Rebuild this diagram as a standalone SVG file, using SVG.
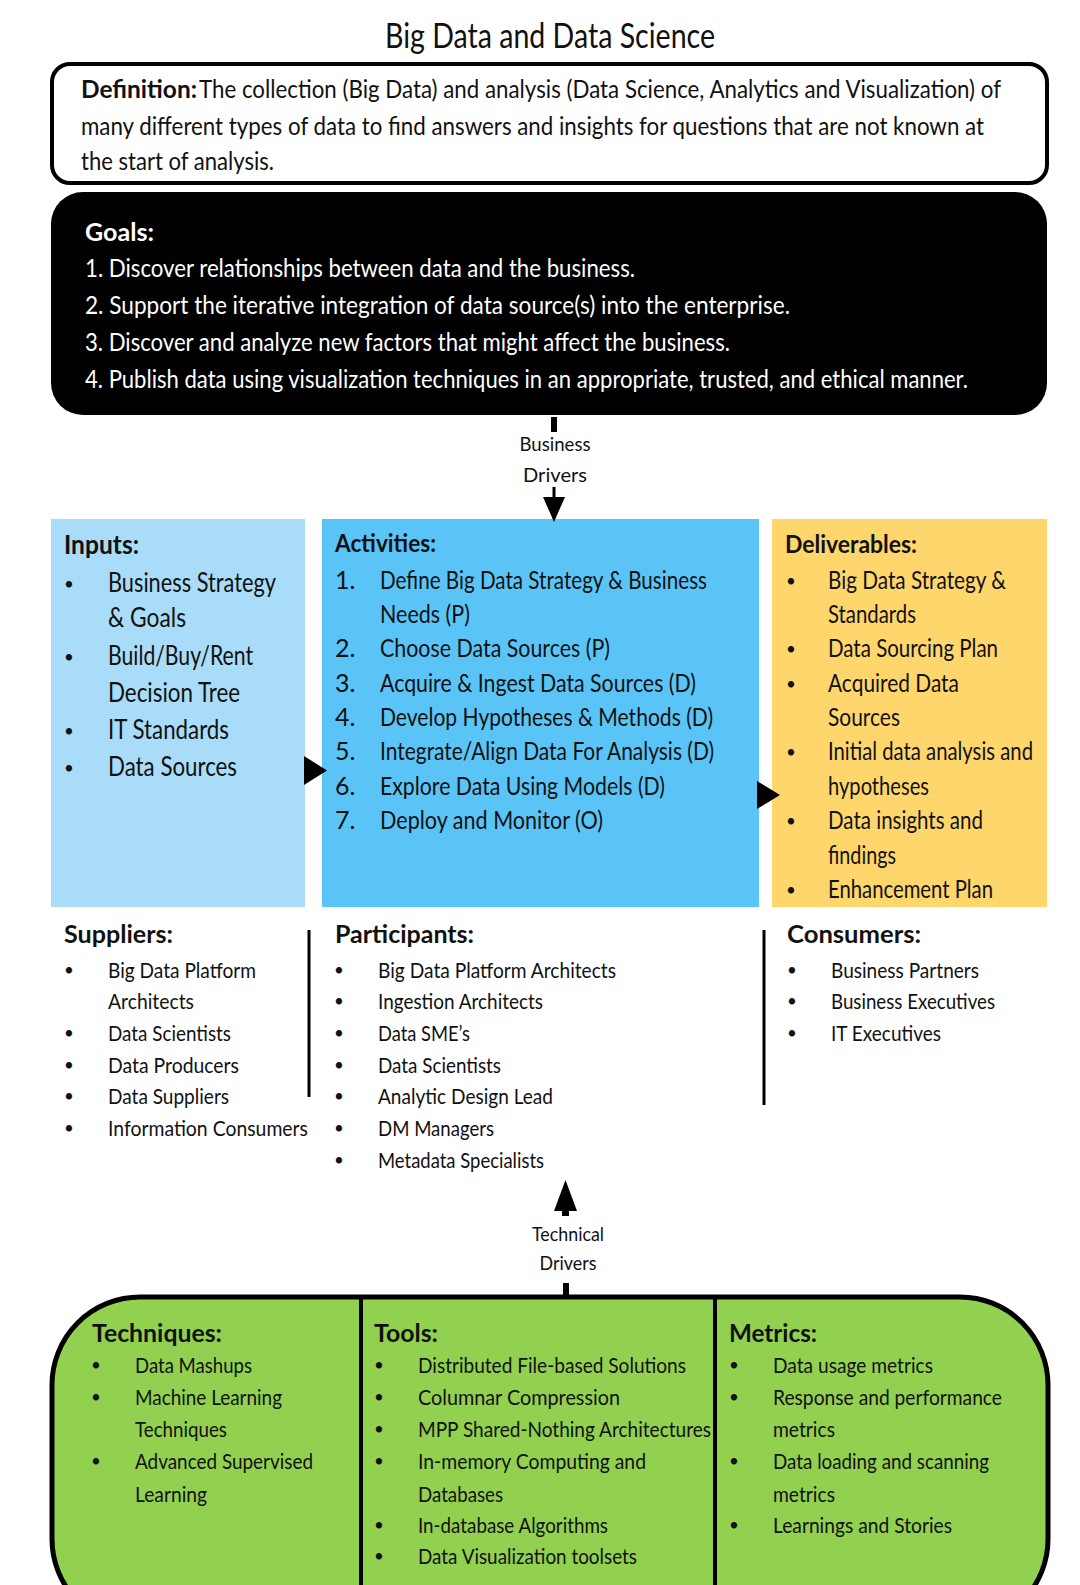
<svg xmlns="http://www.w3.org/2000/svg" width="1080" height="1585" viewBox="0 0 1080 1585">
<style>
text{font-family:Lato,"Liberation Sans",sans-serif;fill:#111;}
.b{font-weight:bold;}
.title{font-size:34px;}
.def{font-size:25px;}
.goal{font-size:25px;fill:#fff;}
.in{font-size:26px;}
.mid{font-size:25px;}
.sm{font-size:22px;}
.bl{font-size:17px;}
.drv{font-size:20px;}
</style>
<rect width="1080" height="1585" fill="#fff"/>
<g id="title"><text class="title" x="550" y="48" text-anchor="middle" textLength="330" lengthAdjust="spacingAndGlyphs">Big Data and Data Science</text></g>

<g id="definition">
<rect x="52" y="64" width="995" height="119" rx="18" fill="#fff" stroke="#000" stroke-width="4"/>
<text class="def b" x="81" y="98" textLength="116" lengthAdjust="spacingAndGlyphs">Definition:</text>
<text class="def" x="199" y="98" textLength="802" lengthAdjust="spacingAndGlyphs">The collection (Big Data) and analysis (Data Science, Analytics and Visualization) of</text>
<text class="def" x="81" y="135" textLength="903" lengthAdjust="spacingAndGlyphs">many different types of data to find answers and insights for questions that are not known at</text>
<text class="def" x="81" y="170" textLength="193" lengthAdjust="spacingAndGlyphs">the start of analysis.</text>
</g>

<g id="goals">
<rect x="51" y="192" width="996" height="223" rx="32" fill="#000"/>
<text class="goal b" x="85" y="241" textLength="69" lengthAdjust="spacingAndGlyphs">Goals:</text>
<text class="goal" x="85" y="277" textLength="550" lengthAdjust="spacingAndGlyphs">1. Discover relationships between data and the business.</text>
<text class="goal" x="85" y="314" textLength="705" lengthAdjust="spacingAndGlyphs">2. Support the iterative integration of data source(s) into the enterprise.</text>
<text class="goal" x="85" y="351" textLength="645" lengthAdjust="spacingAndGlyphs">3. Discover and analyze new factors that might affect the business.</text>
<text class="goal" x="85" y="388" textLength="883" lengthAdjust="spacingAndGlyphs">4. Publish data using visualization techniques in an appropriate, trusted, and ethical manner.</text>
</g>

<g id="inputs">
<rect x="51" y="519" width="254" height="388" fill="#a8dcf8"/>
<text class="in b" x="64" y="554" textLength="75" lengthAdjust="spacingAndGlyphs">Inputs:</text>
<text class="bl" x="64" y="590">•</text><text class="in" x="108" y="592" textLength="168" lengthAdjust="spacingAndGlyphs">Business Strategy</text>
<text class="in" x="108" y="627" textLength="78" lengthAdjust="spacingAndGlyphs">&amp; Goals</text>
<text class="bl" x="64" y="663">•</text><text class="in" x="108" y="665" textLength="145" lengthAdjust="spacingAndGlyphs">Build/Buy/Rent</text>
<text class="in" x="108" y="702" textLength="132" lengthAdjust="spacingAndGlyphs">Decision Tree</text>
<text class="bl" x="64" y="737">•</text><text class="in" x="108" y="739" textLength="121" lengthAdjust="spacingAndGlyphs">IT Standards</text>
<text class="bl" x="64" y="774">•</text><text class="in" x="108" y="776" textLength="129" lengthAdjust="spacingAndGlyphs">Data Sources</text>
</g>

<g id="activities">
<rect x="322" y="519" width="437" height="388" fill="#5ac4f6"/>
<text class="mid b" x="335" y="552" textLength="101" lengthAdjust="spacingAndGlyphs">Activities:</text>
<text class="mid" x="335" y="589">1.</text><text class="mid" x="380" y="589" textLength="327" lengthAdjust="spacingAndGlyphs">Define Big Data Strategy &amp; Business</text>
<text class="mid" x="380" y="623" textLength="90" lengthAdjust="spacingAndGlyphs">Needs (P)</text>
<text class="mid" x="335" y="657">2.</text><text class="mid" x="380" y="657" textLength="230" lengthAdjust="spacingAndGlyphs">Choose Data Sources (P)</text>
<text class="mid" x="335" y="692">3.</text><text class="mid" x="380" y="692" textLength="316" lengthAdjust="spacingAndGlyphs">Acquire &amp; Ingest Data Sources (D)</text>
<text class="mid" x="335" y="726">4.</text><text class="mid" x="380" y="726" textLength="333" lengthAdjust="spacingAndGlyphs">Develop Hypotheses &amp; Methods (D)</text>
<text class="mid" x="335" y="760">5.</text><text class="mid" x="380" y="760" textLength="334" lengthAdjust="spacingAndGlyphs">Integrate/Align Data For Analysis (D)</text>
<text class="mid" x="335" y="795">6.</text><text class="mid" x="380" y="795" textLength="285" lengthAdjust="spacingAndGlyphs">Explore Data Using Models (D)</text>
<text class="mid" x="335" y="829">7.</text><text class="mid" x="380" y="829" textLength="223" lengthAdjust="spacingAndGlyphs">Deploy and Monitor (O)</text>
</g>

<g id="deliverables">
<rect x="772" y="519" width="275" height="388" fill="#fed66c"/>
<text class="mid b" x="785" y="553" textLength="132" lengthAdjust="spacingAndGlyphs">Deliverables:</text>
<text class="bl" x="786" y="587">•</text><text class="mid" x="828" y="589" textLength="178" lengthAdjust="spacingAndGlyphs">Big Data Strategy &amp;</text>
<text class="mid" x="828" y="623" textLength="88" lengthAdjust="spacingAndGlyphs">Standards</text>
<text class="bl" x="786" y="655">•</text><text class="mid" x="828" y="657" textLength="170" lengthAdjust="spacingAndGlyphs">Data Sourcing Plan</text>
<text class="bl" x="786" y="690">•</text><text class="mid" x="828" y="692" textLength="131" lengthAdjust="spacingAndGlyphs">Acquired Data</text>
<text class="mid" x="828" y="726" textLength="72" lengthAdjust="spacingAndGlyphs">Sources</text>
<text class="bl" x="786" y="758">•</text><text class="mid" x="828" y="760" textLength="205" lengthAdjust="spacingAndGlyphs">Initial data analysis and</text>
<text class="mid" x="828" y="795" textLength="101" lengthAdjust="spacingAndGlyphs">hypotheses</text>
<text class="bl" x="786" y="827">•</text><text class="mid" x="828" y="829" textLength="155" lengthAdjust="spacingAndGlyphs">Data insights and</text>
<text class="mid" x="828" y="864" textLength="68" lengthAdjust="spacingAndGlyphs">findings</text>
<text class="bl" x="786" y="896">•</text><text class="mid" x="828" y="898" textLength="165" lengthAdjust="spacingAndGlyphs">Enhancement Plan</text>
</g>

<g id="suppliers">
<text class="mid b" x="64" y="943" textLength="109" lengthAdjust="spacingAndGlyphs">Suppliers:</text>
<text class="bl" x="64" y="976">•</text><text class="sm" x="108" y="978" textLength="148" lengthAdjust="spacingAndGlyphs">Big Data Platform</text>
<text class="sm" x="108" y="1009" textLength="86" lengthAdjust="spacingAndGlyphs">Architects</text>
<text class="bl" x="64" y="1039">•</text><text class="sm" x="108" y="1041" textLength="123" lengthAdjust="spacingAndGlyphs">Data Scientists</text>
<text class="bl" x="64" y="1071">•</text><text class="sm" x="108" y="1073" textLength="131" lengthAdjust="spacingAndGlyphs">Data Producers</text>
<text class="bl" x="64" y="1102">•</text><text class="sm" x="108" y="1104" textLength="121" lengthAdjust="spacingAndGlyphs">Data Suppliers</text>
<text class="bl" x="64" y="1134">•</text><text class="sm" x="108" y="1136" textLength="200" lengthAdjust="spacingAndGlyphs">Information Consumers</text>
</g>

<g id="participants">
<text class="mid b" x="335" y="943" textLength="139" lengthAdjust="spacingAndGlyphs">Participants:</text>
<text class="bl" x="334" y="976">•</text><text class="sm" x="378" y="978" textLength="238" lengthAdjust="spacingAndGlyphs">Big Data Platform Architects</text>
<text class="bl" x="334" y="1007">•</text><text class="sm" x="378" y="1009" textLength="165" lengthAdjust="spacingAndGlyphs">Ingestion Architects</text>
<text class="bl" x="334" y="1039">•</text><text class="sm" x="378" y="1041" textLength="92" lengthAdjust="spacingAndGlyphs">Data SME’s</text>
<text class="bl" x="334" y="1071">•</text><text class="sm" x="378" y="1073" textLength="123" lengthAdjust="spacingAndGlyphs">Data Scientists</text>
<text class="bl" x="334" y="1102">•</text><text class="sm" x="378" y="1104" textLength="175" lengthAdjust="spacingAndGlyphs">Analytic Design Lead</text>
<text class="bl" x="334" y="1134">•</text><text class="sm" x="378" y="1136" textLength="116" lengthAdjust="spacingAndGlyphs">DM Managers</text>
<text class="bl" x="334" y="1166">•</text><text class="sm" x="378" y="1168" textLength="166" lengthAdjust="spacingAndGlyphs">Metadata Specialists</text>
</g>

<g id="consumers">
<text class="mid b" x="787" y="943" textLength="134" lengthAdjust="spacingAndGlyphs">Consumers:</text>
<text class="bl" x="787" y="976">•</text><text class="sm" x="831" y="978" textLength="148" lengthAdjust="spacingAndGlyphs">Business Partners</text>
<text class="bl" x="787" y="1007">•</text><text class="sm" x="831" y="1009" textLength="164" lengthAdjust="spacingAndGlyphs">Business Executives</text>
<text class="bl" x="787" y="1039">•</text><text class="sm" x="831" y="1041" textLength="110" lengthAdjust="spacingAndGlyphs">IT Executives</text>
</g>

<g id="technical-box">
<rect x="52" y="1297" width="996" height="330" rx="88" ry="88" fill="#92d050" stroke="#000" stroke-width="5"/>
<line x1="361" y1="1298" x2="361" y2="1585" stroke="#000" stroke-width="4"/>
<line x1="715" y1="1298" x2="715" y2="1585" stroke="#000" stroke-width="4"/>
</g>

<g id="techniques">
<text class="mid b" x="92" y="1342" textLength="130" lengthAdjust="spacingAndGlyphs">Techniques:</text>
<text class="bl" x="91" y="1371">•</text><text class="sm" x="135" y="1373" textLength="117" lengthAdjust="spacingAndGlyphs">Data Mashups</text>
<text class="bl" x="91" y="1403">•</text><text class="sm" x="135" y="1405" textLength="147" lengthAdjust="spacingAndGlyphs">Machine Learning</text>
<text class="sm" x="135" y="1437" textLength="92" lengthAdjust="spacingAndGlyphs">Techniques</text>
<text class="bl" x="91" y="1467">•</text><text class="sm" x="135" y="1469" textLength="178" lengthAdjust="spacingAndGlyphs">Advanced Supervised</text>
<text class="sm" x="135" y="1502" textLength="72" lengthAdjust="spacingAndGlyphs">Learning</text>
</g>

<g id="tools">
<text class="mid b" x="374" y="1342" textLength="64" lengthAdjust="spacingAndGlyphs">Tools:</text>
<text class="bl" x="374" y="1371">•</text><text class="sm" x="418" y="1373" textLength="268" lengthAdjust="spacingAndGlyphs">Distributed File-based Solutions</text>
<text class="bl" x="374" y="1403">•</text><text class="sm" x="418" y="1405" textLength="202" lengthAdjust="spacingAndGlyphs">Columnar Compression</text>
<text class="bl" x="374" y="1435">•</text><text class="sm" x="418" y="1437" textLength="293" lengthAdjust="spacingAndGlyphs">MPP Shared-Nothing Architectures</text>
<text class="bl" x="374" y="1467">•</text><text class="sm" x="418" y="1469" textLength="228" lengthAdjust="spacingAndGlyphs">In-memory Computing and</text>
<text class="sm" x="418" y="1502" textLength="85" lengthAdjust="spacingAndGlyphs">Databases</text>
<text class="bl" x="374" y="1531">•</text><text class="sm" x="418" y="1533" textLength="190" lengthAdjust="spacingAndGlyphs">In-database Algorithms</text>
<text class="bl" x="374" y="1562">•</text><text class="sm" x="418" y="1564" textLength="219" lengthAdjust="spacingAndGlyphs">Data Visualization toolsets</text>
</g>

<g id="metrics">
<text class="mid b" x="729" y="1342" textLength="88" lengthAdjust="spacingAndGlyphs">Metrics:</text>
<text class="bl" x="729" y="1371">•</text><text class="sm" x="773" y="1373" textLength="160" lengthAdjust="spacingAndGlyphs">Data usage metrics</text>
<text class="bl" x="729" y="1403">•</text><text class="sm" x="773" y="1405" textLength="229" lengthAdjust="spacingAndGlyphs">Response and performance</text>
<text class="sm" x="773" y="1437" textLength="62" lengthAdjust="spacingAndGlyphs">metrics</text>
<text class="bl" x="729" y="1467">•</text><text class="sm" x="773" y="1469" textLength="216" lengthAdjust="spacingAndGlyphs">Data loading and scanning</text>
<text class="sm" x="773" y="1502" textLength="62" lengthAdjust="spacingAndGlyphs">metrics</text>
<text class="bl" x="729" y="1531">•</text><text class="sm" x="773" y="1533" textLength="179" lengthAdjust="spacingAndGlyphs">Learnings and Stories</text>
</g>

<g id="connectors">
<line x1="309" y1="930" x2="309" y2="1097" stroke="#000" stroke-width="3"/>
<line x1="764" y1="930" x2="764" y2="1105" stroke="#000" stroke-width="3"/>
<rect x="551" y="417" width="6" height="15" fill="#000"/>
<line x1="554" y1="487" x2="554" y2="500" stroke="#000" stroke-width="3"/>
<path d="M543,497L565,497L554,522z" fill="#000"/>
<path d="M304,756L327,770.5L304,785z" fill="#000"/>
<path d="M757,781L780,795L757,809z" fill="#000"/>
<path d="M554,1211L577,1211L565.5,1180z" fill="#000"/>
<rect x="562" y="1205" width="7" height="11" fill="#000"/>
<rect x="563" y="1283" width="6" height="14" fill="#000"/>
</g>

<g id="business-drivers-label">
<text class="drv" x="555" y="451" text-anchor="middle" textLength="71" lengthAdjust="spacingAndGlyphs">Business</text>
<text class="drv" x="555" y="482" text-anchor="middle" textLength="64" lengthAdjust="spacingAndGlyphs">Drivers</text>
</g>
<g id="technical-drivers-label">
<text class="drv" x="568" y="1241" text-anchor="middle" textLength="72" lengthAdjust="spacingAndGlyphs">Technical</text>
<text class="drv" x="568" y="1270" text-anchor="middle" textLength="57" lengthAdjust="spacingAndGlyphs">Drivers</text>
</g>
</svg>
